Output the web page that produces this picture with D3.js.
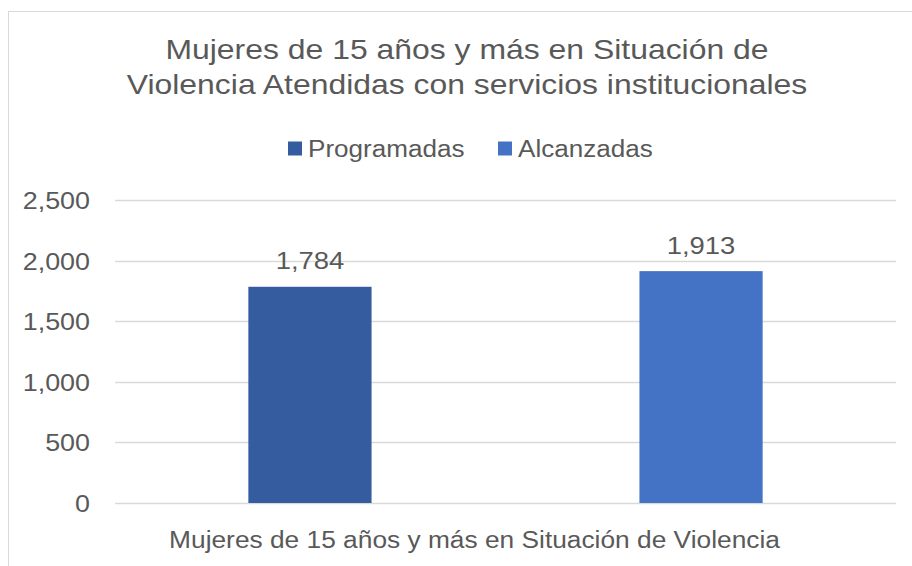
<!DOCTYPE html>
<html>
<head>
<meta charset="utf-8">
<script src="https://cdn.jsdelivr.net/npm/d3@7"></script>
<style>
  body { margin: 0; background: #fff; }
  text { font-family: "Liberation Sans", Arial, sans-serif; fill: #595959; }
</style>
</head>
<body>
<div id="chart"></div>
<script>
const series = ["Programadas", "Alcanzadas"];
const values = [1784, 1913];
const colors = ["#355c9f", "#4472c4"];
const yTicks = [0, 500, 1000, 1500, 2000, 2500];
const category = "Mujeres de 15 años y más en Situación de Violencia";
const titleLines = ["Mujeres de 15 años y más en Situación de",
                    "Violencia Atendidas con servicios institucionales"];

const W = 912, H = 566;
const plot = {left: 115, right: 896, top: 200, bottom: 503};
const sx = 1.12; // the original is a bit wider than tall

const svg = d3.select("#chart").append("svg")
    .attr("width", W).attr("height", H);

// put a stretched text at x,y
function label(x, y, txt, size, anchor) {
    let g = svg.append("g")
        .attr("transform", "translate(" + x + "," + y + ") scale(" + sx + ",1)");
    g.append("text")
        .attr("text-anchor", anchor || "middle")
        .style("font-size", size + "px")
        .text(txt);
    return g;
}

// chart border
svg.append("rect")
    .attr("x", 8.5).attr("y", 11.5)
    .attr("width", W).attr("height", H)
    .attr("fill", "none").attr("stroke", "#d9d9d9");

// title
titleLines.forEach((t, i) => label(467, 59 + i * 35, t, 28.5));

// legend
const legendX = [288, 498];
series.forEach((s, i) => {
    svg.append("rect").attr("x", legendX[i]).attr("y", 141.5)
        .attr("width", 14).attr("height", 14)
        .attr("fill", colors[i]);
    label(legendX[i] + 20, 156.5, s, 23.3, "start");
});

var y = d3.scaleLinear().domain([0, 2500]).range([plot.bottom, plot.top]);
var x = d3.scaleBand().domain(series)
    .range([plot.left, plot.right])
    .paddingInner(0.685).paddingOuter(0.341);

// gridlines
svg.append("g").selectAll("line").data(yTicks).enter().append("line")
    .attr("x1", plot.left).attr("x2", plot.right)
    .attr("y1", d => Math.round(y(d)) + 0.5).attr("y2", d => Math.round(y(d)) + 0.5)
    .attr("stroke", "#d9d9d9").attr("stroke-width", 1.5);

// y tick labels
yTicks.forEach(t => label(90, y(t) + 9, d3.format(",")(t), 24, "end"));

// bars
svg.selectAll(".bar").data(values).enter().append("rect")
    .attr("class", "bar")
    .attr("x", (d, i) => x(series[i]))
    .attr("y", d => y(d))
    .attr("width", x.bandwidth())
    .attr("height", d => y(0) - y(d))
    .attr("fill", (d, i) => colors[i]);

// value labels
values.forEach((v, i) => {
    label(x(series[i]) + x.bandwidth() / 2, y(v) - 17.5, d3.format(",")(v), 24.5);
});

// category label
label(474.5, 547.5, category, 23.5);
</script>
</body>
</html>
